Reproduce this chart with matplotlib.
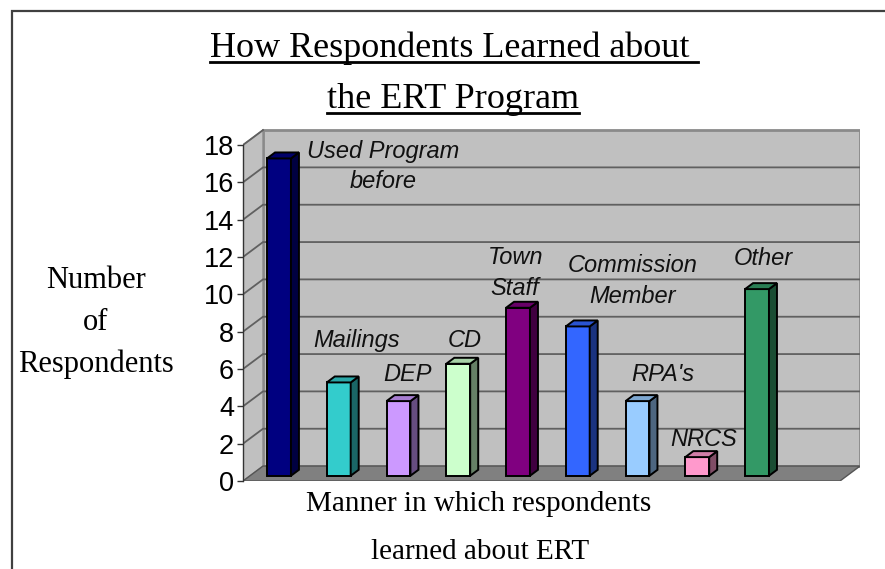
import numpy as np
import matplotlib
matplotlib.use("Agg")
import matplotlib.pyplot as plt
from matplotlib.patches import Polygon, Rectangle
from matplotlib.lines import Line2D
from matplotlib.colors import to_rgb

# data
categories = ["Used Program\nbefore", "Mailings", "DEP", "CD", "Town\nStaff",
              "Commission\nMember", "RPA's", "NRCS", "Other"]
counts = [17, 5, 4, 6, 9, 8, 4, 1, 10]
bar_colors = ["#000080", "#33CCCC", "#CC99FF", "#CCFFCC", "#800080",
              "#3366FF", "#99CCFF", "#FF99CC", "#339966"]
y_ticks = list(range(0, 19, 2))

# where the data labels sit, relative to the top of each bar
label_dx = [1.86, 0.42, 0.26, 0.23, 0.07, 1.04, 0.54, 0.23, 0.22]
label_dy = [-0.17, 2.55, 1.68, 1.55, 2.14, 2.71, 1.68, 1.20, 1.94]

# fake 3d geometry (data units)
DX, DY = 0.335, 0.80      # full depth of the box
F0, F1 = 0.35, 0.75       # bar front / back depth fraction
W = 0.40                  # bar width
x_left, x_floor_right = -0.485, 9.506
y_top = 18

W_PX, H_PX = 885, 569
fig = plt.figure(figsize=(W_PX / 100, H_PX / 100), dpi=100)
fig.patch.set_facecolor("white")
ax = fig.add_axes([243 / W_PX, (H_PX - 481) / H_PX, 617 / W_PX, 353 / H_PX])
ax.set_xlim(x_left, x_floor_right + DX)
ax.set_ylim(0, 18.91)
ax.patch.set_alpha(0)

wall_c, floor_c, edge_c, grid_c = "#C0C0C0", "#808080", "#8A8A8A", "#606060"

# back wall, left wall, floor
ax.add_patch(Rectangle((x_left + DX, DY), x_floor_right - x_left, y_top,
                       facecolor=wall_c, edgecolor=edge_c, lw=2, zorder=0))
ax.add_patch(Polygon([(x_left, 0), (x_left, y_top), (x_left + DX, y_top + DY),
                      (x_left + DX, DY)], closed=True, facecolor=wall_c,
                     edgecolor=edge_c, lw=1, zorder=0))
ax.add_patch(Polygon([(x_left, 0), (x_floor_right, 0), (x_floor_right + DX, DY),
                      (x_left + DX, DY)], closed=True, facecolor=floor_c,
                     edgecolor="#555555", lw=1, zorder=1))

# gridlines on the walls
for v in y_ticks[1:-1]:
    ax.plot([x_left, x_left + DX, x_floor_right + DX], [v, v + DY, v + DY],
            color=grid_c, lw=1.3, zorder=1)
ax.plot([x_left, x_left + DX], [y_top, y_top + DY], color=grid_c, lw=1.3, zorder=1)

# bars: front faces
x = np.arange(len(counts))
ax.bar(x + F0 * DX, counts, width=W, bottom=F0 * DY, color=bar_colors,
       edgecolor="black", linewidth=1.4, zorder=3)

# side and top faces
for xi, v, c in zip(x, counts, bar_colors):
    base = np.array(to_rgb(c))
    xl = xi + F0 * DX - W / 2
    xr = xi + F0 * DX + W / 2
    side = [(xr, F0 * DY), (xr + (F1 - F0) * DX, F1 * DY),
            (xr + (F1 - F0) * DX, v + F1 * DY), (xr, v + F0 * DY)]
    top = [(xl, v + F0 * DY), (xr, v + F0 * DY),
           (xr + (F1 - F0) * DX, v + F1 * DY), (xl + (F1 - F0) * DX, v + F1 * DY)]
    ax.add_patch(Polygon(side, closed=True, facecolor=base * 0.5,
                         edgecolor="black", lw=1.4, zorder=3))
    ax.add_patch(Polygon(top, closed=True, facecolor=base * 0.82,
                         edgecolor="black", lw=1.4, zorder=3))

# data labels
for xi, v, name, dx, dy in zip(x, counts, categories, label_dx, label_dy):
    ax.text(xi + dx, v + dy, name, ha="center", va="center", fontsize=17,
            style="italic", family="Liberation Sans", linespacing=1.4,
            color="#111111", zorder=5)

# value axis
for s in ["top", "right", "bottom"]:
    ax.spines[s].set_visible(False)
ax.spines["left"].set_bounds(0, y_top)
ax.spines["left"].set_color("#333333")
ax.spines["left"].set_linewidth(1.0)
ax.set_yticks(y_ticks)
ax.set_yticklabels([str(t) for t in y_ticks], fontsize=19.5, family="Liberation Sans")
ax.tick_params(axis="y", length=4.5, width=1, color="#333333", pad=2)
ax.set_xticks([])

# titles and axis labels
serif = "Liberation Serif"
t1 = fig.text(454 / W_PX, 1 - 57 / H_PX, "How Respondents Learned about ",
              ha="center", va="baseline", fontsize=26, family=serif)
t2 = fig.text(453 / W_PX, 1 - 108 / H_PX, "the ERT Program",
              ha="center", va="baseline", fontsize=26, family=serif)
for line, yb in [("Number", 288), ("of", 330), ("Respondents", 372)]:
    fig.text(96 / W_PX, 1 - yb / H_PX, line, ha="center", va="baseline",
             fontsize=22, family=serif)
fig.text(479 / W_PX, 1 - 511 / H_PX, "Manner in which respondents",
         ha="center", va="baseline", fontsize=21, family=serif)
fig.text(480 / W_PX, 1 - 559 / H_PX, "learned about ERT",
         ha="center", va="baseline", fontsize=21, family=serif)

# underline the title lines
fig.canvas.draw()
renderer = fig.canvas.get_renderer()
for t, yu_px in [(t1, 62), (t2, 113)]:
    bb = t.get_window_extent(renderer)
    yu = 1 - yu_px / H_PX
    fig.add_artist(Line2D([bb.x0 / W_PX, bb.x1 / W_PX], [yu, yu],
                          transform=fig.transFigure, color="black", lw=2))

# outer border (runs off the right and bottom edge)
fig.add_artist(Rectangle((12 / W_PX, -0.05), 1.1, 1 - 11 / H_PX + 0.05,
                         transform=fig.transFigure, fill=False,
                         edgecolor="#404040", lw=1.6))

fig.savefig("out.png", dpi=100)
